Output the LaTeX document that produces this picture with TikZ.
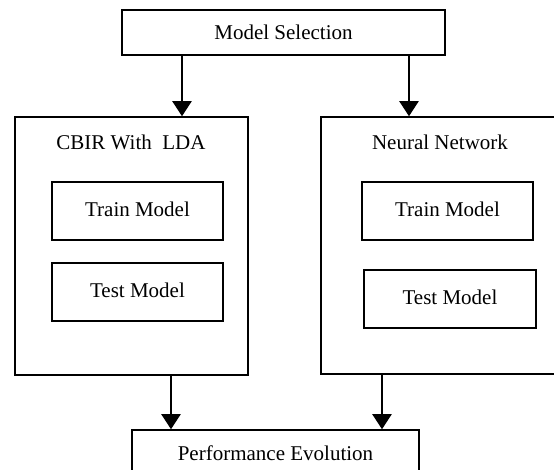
\documentclass[tikz,border=0pt]{standalone}
\usepackage{fontspec}
\setmainfont{Liberation Serif}
\usepackage{tikz}
\usetikzlibrary{arrows.meta}

\tikzset{
    box/.style={draw, line width=0.75pt, inner sep=0pt, font=\fontsize{10.5}{12.6}\selectfont},
    arr/.style={line width=1pt, -{Triangle[length=7.5pt, width=9.5pt]}},
}

\begin{document}
\begin{tikzpicture}[x=0.5pt, y=-0.5pt]
    \useasboundingbox (0, 0) rectangle (554, 470);
    \node [box, minimum width=161.5pt, minimum height=22.5pt] (0) at (283.5, 32.5) {Model Selection};
    % left branch
    \node [box, minimum width=116.5pt, minimum height=129pt] (1) at (131.5, 246) {};
    \node [font=\fontsize{10.5}{12.6}\selectfont] (2) at (131, 142) {CBIR With\ \ LDA};
    \node [box, minimum width=85.5pt, minimum height=29pt] (3) at (137.5, 211) {\raisebox{1.5pt}{Train Model}};
    \node [box, minimum width=85.5pt, minimum height=29pt] (4) at (137.5, 292) {\raisebox{2pt}{Test Model}};
    % right branch
    \node [box, minimum width=120.5pt, minimum height=128.5pt] (5) at (441.5, 245.5) {};
    \node [font=\fontsize{10.5}{12.6}\selectfont] (6) at (440, 142) {Neural Network};
    \node [box, minimum width=85.5pt, minimum height=29pt] (7) at (447.5, 211) {\raisebox{1.5pt}{Train Model}};
    \node [box, minimum width=86pt, minimum height=29pt] (8) at (450, 299) {\raisebox{2pt}{Test Model}};
    % result
    \node [box, minimum width=143.5pt, minimum height=23pt] (9) at (275.5, 453) {Performance Evolution};
    % arrows
    \path ([xshift=-50.75pt]0.south) coordinate (a) ([xshift=62.75pt]0.south) coordinate (b);
    \draw [arr] (a) to (a |- 1.north);
    \draw [arr] (b) to (b |- 5.north);
    \path ([xshift=-52.25pt]9.north) coordinate (c) ([xshift=53.25pt]9.north) coordinate (d);
    \draw [arr] (1.south -| c) to (c);
    \draw [arr] (5.south -| d) to (d);
\end{tikzpicture}
\end{document}
